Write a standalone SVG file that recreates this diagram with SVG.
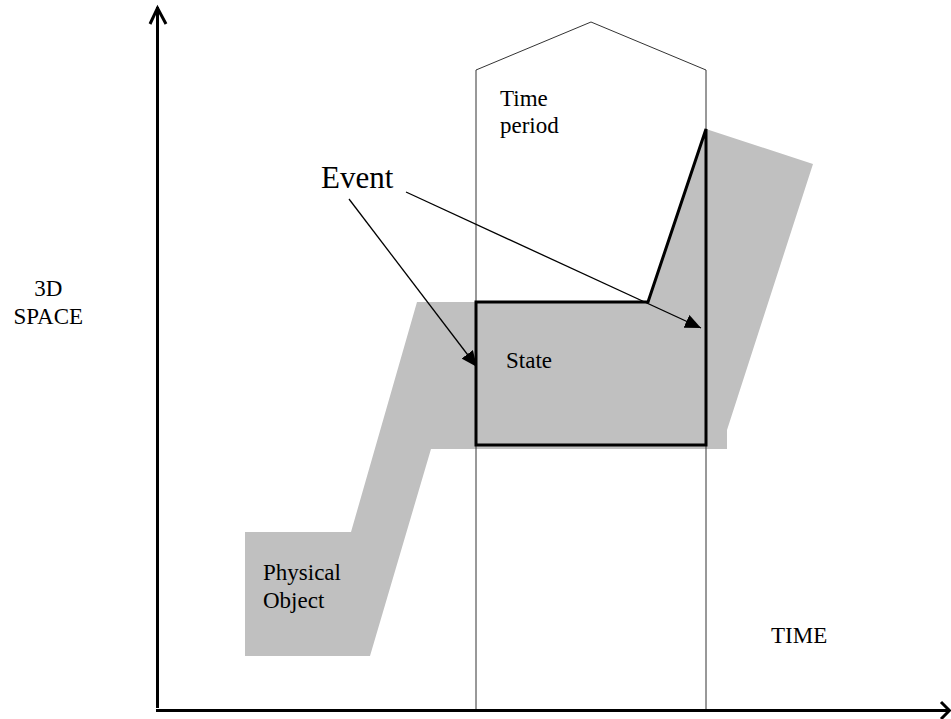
<svg xmlns="http://www.w3.org/2000/svg" width="951" height="719" viewBox="0 0 951 719">
<style>
  .lbl { font-family: "Liberation Serif", "Times New Roman", serif; font-size: 23px; fill: #000; }
  .big { font-family: "Liberation Serif", "Times New Roman", serif; font-size: 31px; fill: #000; }
  .gray { fill: #c0c0c0; stroke: none; }
  .thin { fill: none; stroke: #333; stroke-width: 1; }
  .axis { fill: none; stroke: #000; stroke-width: 3; stroke-linecap: butt; }
  .conn { fill: none; stroke: #000; stroke-width: 1.3; }
</style>
<defs>
  <marker id="ah" markerUnits="userSpaceOnUse" markerWidth="16" markerHeight="14" refX="16" refY="7" orient="auto">
    <path d="M0,0 L16,7 L0,14 Z" fill="#000"/>
  </marker>
</defs>
<rect width="951" height="719" fill="#fff"/>

<g id="physical-object">
  <polygon class="gray" points="245,532 351,532 417,302 650,302 706,129 813,164 727,430 727,449 431,449 370,656 245,656"/>
  <text class="lbl" x="263" y="580">Physical</text>
  <text class="lbl" x="263" y="608">Object</text>
</g>

<g id="time-period">
  <polyline class="thin" points="476,710 476,70 591,22 706,70 706,710"/>
  <text class="lbl" x="500" y="106">Time</text>
  <text class="lbl" x="500" y="133">period</text>
</g>

<g id="connectors-under">
  <line class="conn" x1="349" y1="199" x2="477" y2="367" marker-end="url(#ah)"/>
</g>

<g id="state">
  <path d="M476,302 H648 L706,129 V445 H476 Z" fill="#c0c0c0" stroke="#000" stroke-width="3" stroke-linejoin="miter"/>
  <text class="lbl" x="506" y="368">State</text>
</g>

<g id="connectors">
  <line class="conn" x1="406" y1="192" x2="701" y2="328" marker-end="url(#ah)"/>
</g>

<g id="event">
  <text class="big" x="321" y="188">Event</text>
</g>

<g id="axes">
  <line class="axis" x1="157.5" y1="7" x2="157.5" y2="708"/>
  <polyline class="axis" points="150,24 157.5,8 166,24" stroke-linejoin="miter"/>
  <line class="axis" x1="156" y1="710.5" x2="949" y2="710.5" stroke-width="3.5"/>
  <polyline class="axis" points="941,702 949.5,710.5 941,719"/>
  <text class="lbl" x="48.3" y="296" text-anchor="middle">3D</text>
  <text class="lbl" x="48.3" y="324" text-anchor="middle">SPACE</text>
  <text class="lbl" x="771" y="643">TIME</text>
</g>
</svg>
